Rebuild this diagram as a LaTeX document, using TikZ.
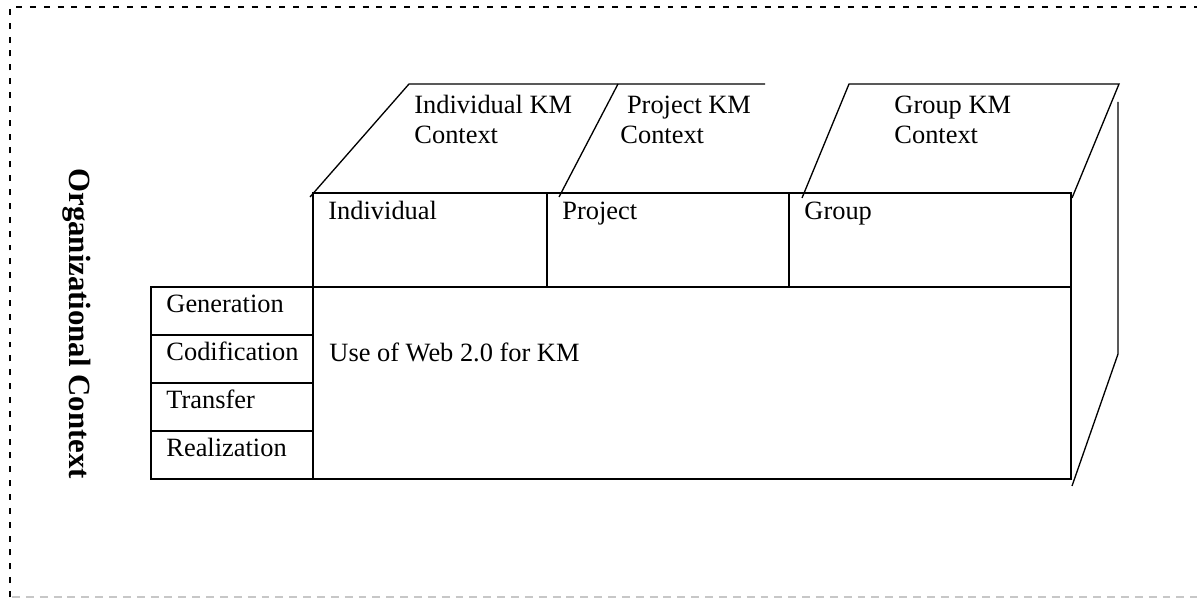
\documentclass[tikz,border=0pt]{standalone}
\usepackage{fontspec}
\setmainfont{Liberation Serif}
\begin{document}
\begin{tikzpicture}[x=0.4545pt,y=-0.4545pt]
  \tikzstyle{celltext}=[inner sep=0pt,anchor=base west,font=\fontsize{12}{13.8}\selectfont]
  \tikzstyle{heading}=[celltext,align=left]
  \tikzstyle{box}=[draw,line width=0.8pt]
  \tikzstyle{slant}=[draw,line width=0.6pt]
  \tikzstyle{outline}=[draw,line width=0.9pt,dash pattern=on 2.7pt off 3.6pt]
  \useasboundingbox (0,0) rectangle (1197,598);
  % outer frame
  \draw[outline] (10,597) -- (10,7) -- (1197,7);
  \draw[outline,line width=0.5pt,black!22,dash pattern=on 3.6pt off 2.7pt] (12,597) -- (1197,597);
  \node[inner sep=0pt,anchor=base west,rotate=-90,font=\fontsize{14}{16}\selectfont\bfseries] (org) at (69,168) {Organizational Context};
  % top faces
  \draw[slant] (310,197) -- (409,84) -- (765,84);
  \draw[slant] (559,197) -- (618,84);
  \draw[slant] (802,198) -- (849,84) -- (1119,84) -- (1072,198);
  \draw[slant] (1118,102) -- (1118,354) -- (1072,486);
  \node[heading] (indivkm) at (414,144) {Individual KM\\Context};
  \node[heading] (projkm) at (620,144) {~Project KM\\Context};
  \node[heading] (groupkm) at (894,144) {Group KM\\Context};
  % front boxes
  \draw[box] (313,193) rectangle (547,287);
  \draw[box] (547,193) rectangle (789,287);
  \draw[box] (789,193) rectangle (1071,287);
  \draw[box] (313,287) rectangle (1071,479);
  \node[celltext] (indiv) at (328,220) {Individual};
  \node[celltext] (proj) at (562,220) {Project};
  \node[celltext] (group) at (804,220) {Group};
  \node[celltext] (web) at (329,362) {Use of Web 2.0 for KM};
  % process column
  \draw[box] (151,287) rectangle (313,335);
  \draw[box] (151,335) rectangle (313,383);
  \draw[box] (151,383) rectangle (313,431);
  \draw[box] (151,431) rectangle (313,479);
  \node[celltext] (gen) at (166,313) {Generation};
  \node[celltext] (cod) at (166,361) {Codification};
  \node[celltext] (trans) at (166,409) {Transfer};
  \node[celltext] (real) at (166,457) {Realization};
\end{tikzpicture}
\end{document}
